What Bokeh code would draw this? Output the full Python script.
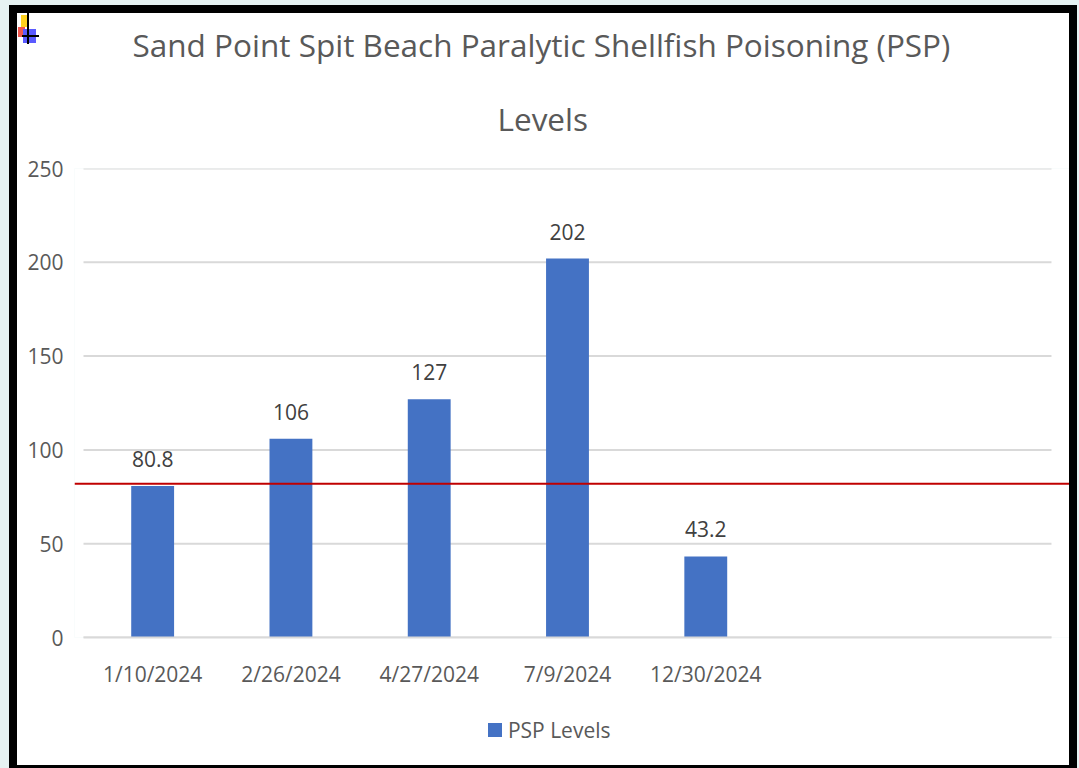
from bokeh.embed import file_html
from bokeh.resources import INLINE
from bokeh.plotting import figure
from bokeh.models import ColumnDataSource, FixedTicker, LinearAxis, Range1d, Span, Title
from bokeh.core.properties import value

FONT = "Open Sans"
GREY = "#595959"
GRID = "#d9d9d9"

title_lines = ["Sand Point Spit Beach Paralytic Shellfish Poisoning (PSP)", "Levels"]
dates = ["1/10/2024", "2/26/2024", "4/27/2024", "7/9/2024", "12/30/2024"]
psp_levels = [80.8, 106, 127, 202, 43.2]
point_labels = ["80.8", "106", "127", "202", "43.2"]
threshold = 82
y_ticks = [0, 50, 100, 150, 200, 250]
series_name = "PSP Levels"
bar_color = "#4472c4"
slot_count = 7  # five dated columns and two empty slots on the right

W, H = 1079, 768
# the plot area runs as far as the red line does; columns and gridlines sit inside it
LEFT, RIGHT, TOP, BOTTOM = 75, 1070, 168, 637
SLOT = (1051 - 84) / slot_count
positions = list(range(len(dates)))
x0, x1 = -0.5, slot_count - 0.5

p = figure(width=W, height=H, output_backend="svg", toolbar_location=None,
           x_range=Range1d(x0 - (84 - LEFT) / SLOT, x1 + (RIGHT - 1051) / SLOT),
           y_range=Range1d(0, 250),
           min_border_left=LEFT - 1, min_border_right=W - RIGHT, min_border_top=TOP,
           min_border_bottom=H - BOTTOM,
           background_fill_color="white", border_fill_color="white")
p.outline_line_color = None
p.grid.visible = False
p.yaxis.ticker = y_ticks
p.yaxis.axis_line_color = None
p.yaxis.major_tick_line_color = None
p.yaxis.minor_tick_line_color = None
p.yaxis.major_label_standoff = 5
p.xaxis.ticker = positions
p.xaxis.major_label_overrides = dict(zip(positions, dates))
p.xaxis.bounds = (x0, x1)
p.xaxis.axis_line_color = GRID
p.xaxis.axis_line_width = 2
p.xaxis.major_tick_line_color = None
p.xaxis.minor_tick_line_color = None
p.xaxis.major_label_standoff = 16
for ax in (p.xaxis, p.yaxis):
    ax.major_label_text_font = FONT
    ax.major_label_text_font_size = "21px"
    ax.major_label_text_color = GREY

p.segment(x0=[x0] * len(y_ticks), x1=[x1] * len(y_ticks), y0=y_ticks, y1=y_ticks,
          line_color=GRID, line_width=2)

src = ColumnDataSource(dict(x=positions, y=psp_levels, t=point_labels))
bars = p.vbar(x="x", top="y", width=0.31, source=src, fill_color=bar_color, line_color=None)
p.text(x="x", y="y", text="t", source=src, text_font=value(FONT), text_font_size="21px",
       text_color="#404040", text_align="center", text_baseline="bottom", y_offset=-19)

p.add_layout(Span(location=threshold, dimension="width", line_color="#c00000", line_width=2))

# legend text: annotations are clipped to the plot area here, so it sits on an axis of its own
legend_tick = 2.94
legend_axis = LinearAxis(ticker=FixedTicker(ticks=[legend_tick]),
                         major_label_overrides={legend_tick: series_name},
                         axis_line_color=None, major_tick_line_color=None,
                         minor_tick_line_color=None, major_label_standoff=19,
                         major_label_text_font=FONT, major_label_text_font_size="21px",
                         major_label_text_color=GREY)
p.add_layout(legend_axis, "below")

# nearest the plot first
p.add_layout(Title(text=title_lines[1], align="left", offset=423, standoff=58,
                   text_font=FONT, text_font_size="31.5px", text_font_style="normal",
                   text_color=GREY), "above")
p.add_layout(Title(text=title_lines[0], align="left", offset=58, standoff=0,
                   text_font=FONT, text_font_size="31.5px", text_font_style="normal",
                   text_color=GREY), "above")

# black frame, page edge, legend swatch and small cursor mark laid over the figure
sheet = f"""
<style>html,body{{background:#e6f2f2}}
#sheet,#sheet i{{position:fixed;display:block;z-index:10;pointer-events:none}}</style>
<div id="sheet" style="left:9px;top:5px;width:1052px;height:752px;border:8px solid #000;box-shadow:0 0 0 12px #e6f2f2">
<i style="left:21px;top:15px;width:6px;height:12px;background:#ffd21f"></i>
<i style="left:18px;top:27px;width:7px;height:10px;background:#f2584f"></i>
<i style="left:23px;top:29px;width:13px;height:14px;background:#5a5aff"></i>
<i style="left:27px;top:13px;width:2px;height:31px;background:#000"></i>
<i style="left:22px;top:35px;width:17px;height:2px;background:#000"></i>
<i style="left:488px;top:723px;width:14px;height:14px;background:{bar_color}"></i>
</div>
"""
html = file_html(p, INLINE).replace("</body>", sheet + "</body>", 1)
open("out.html", "w").write(html)
